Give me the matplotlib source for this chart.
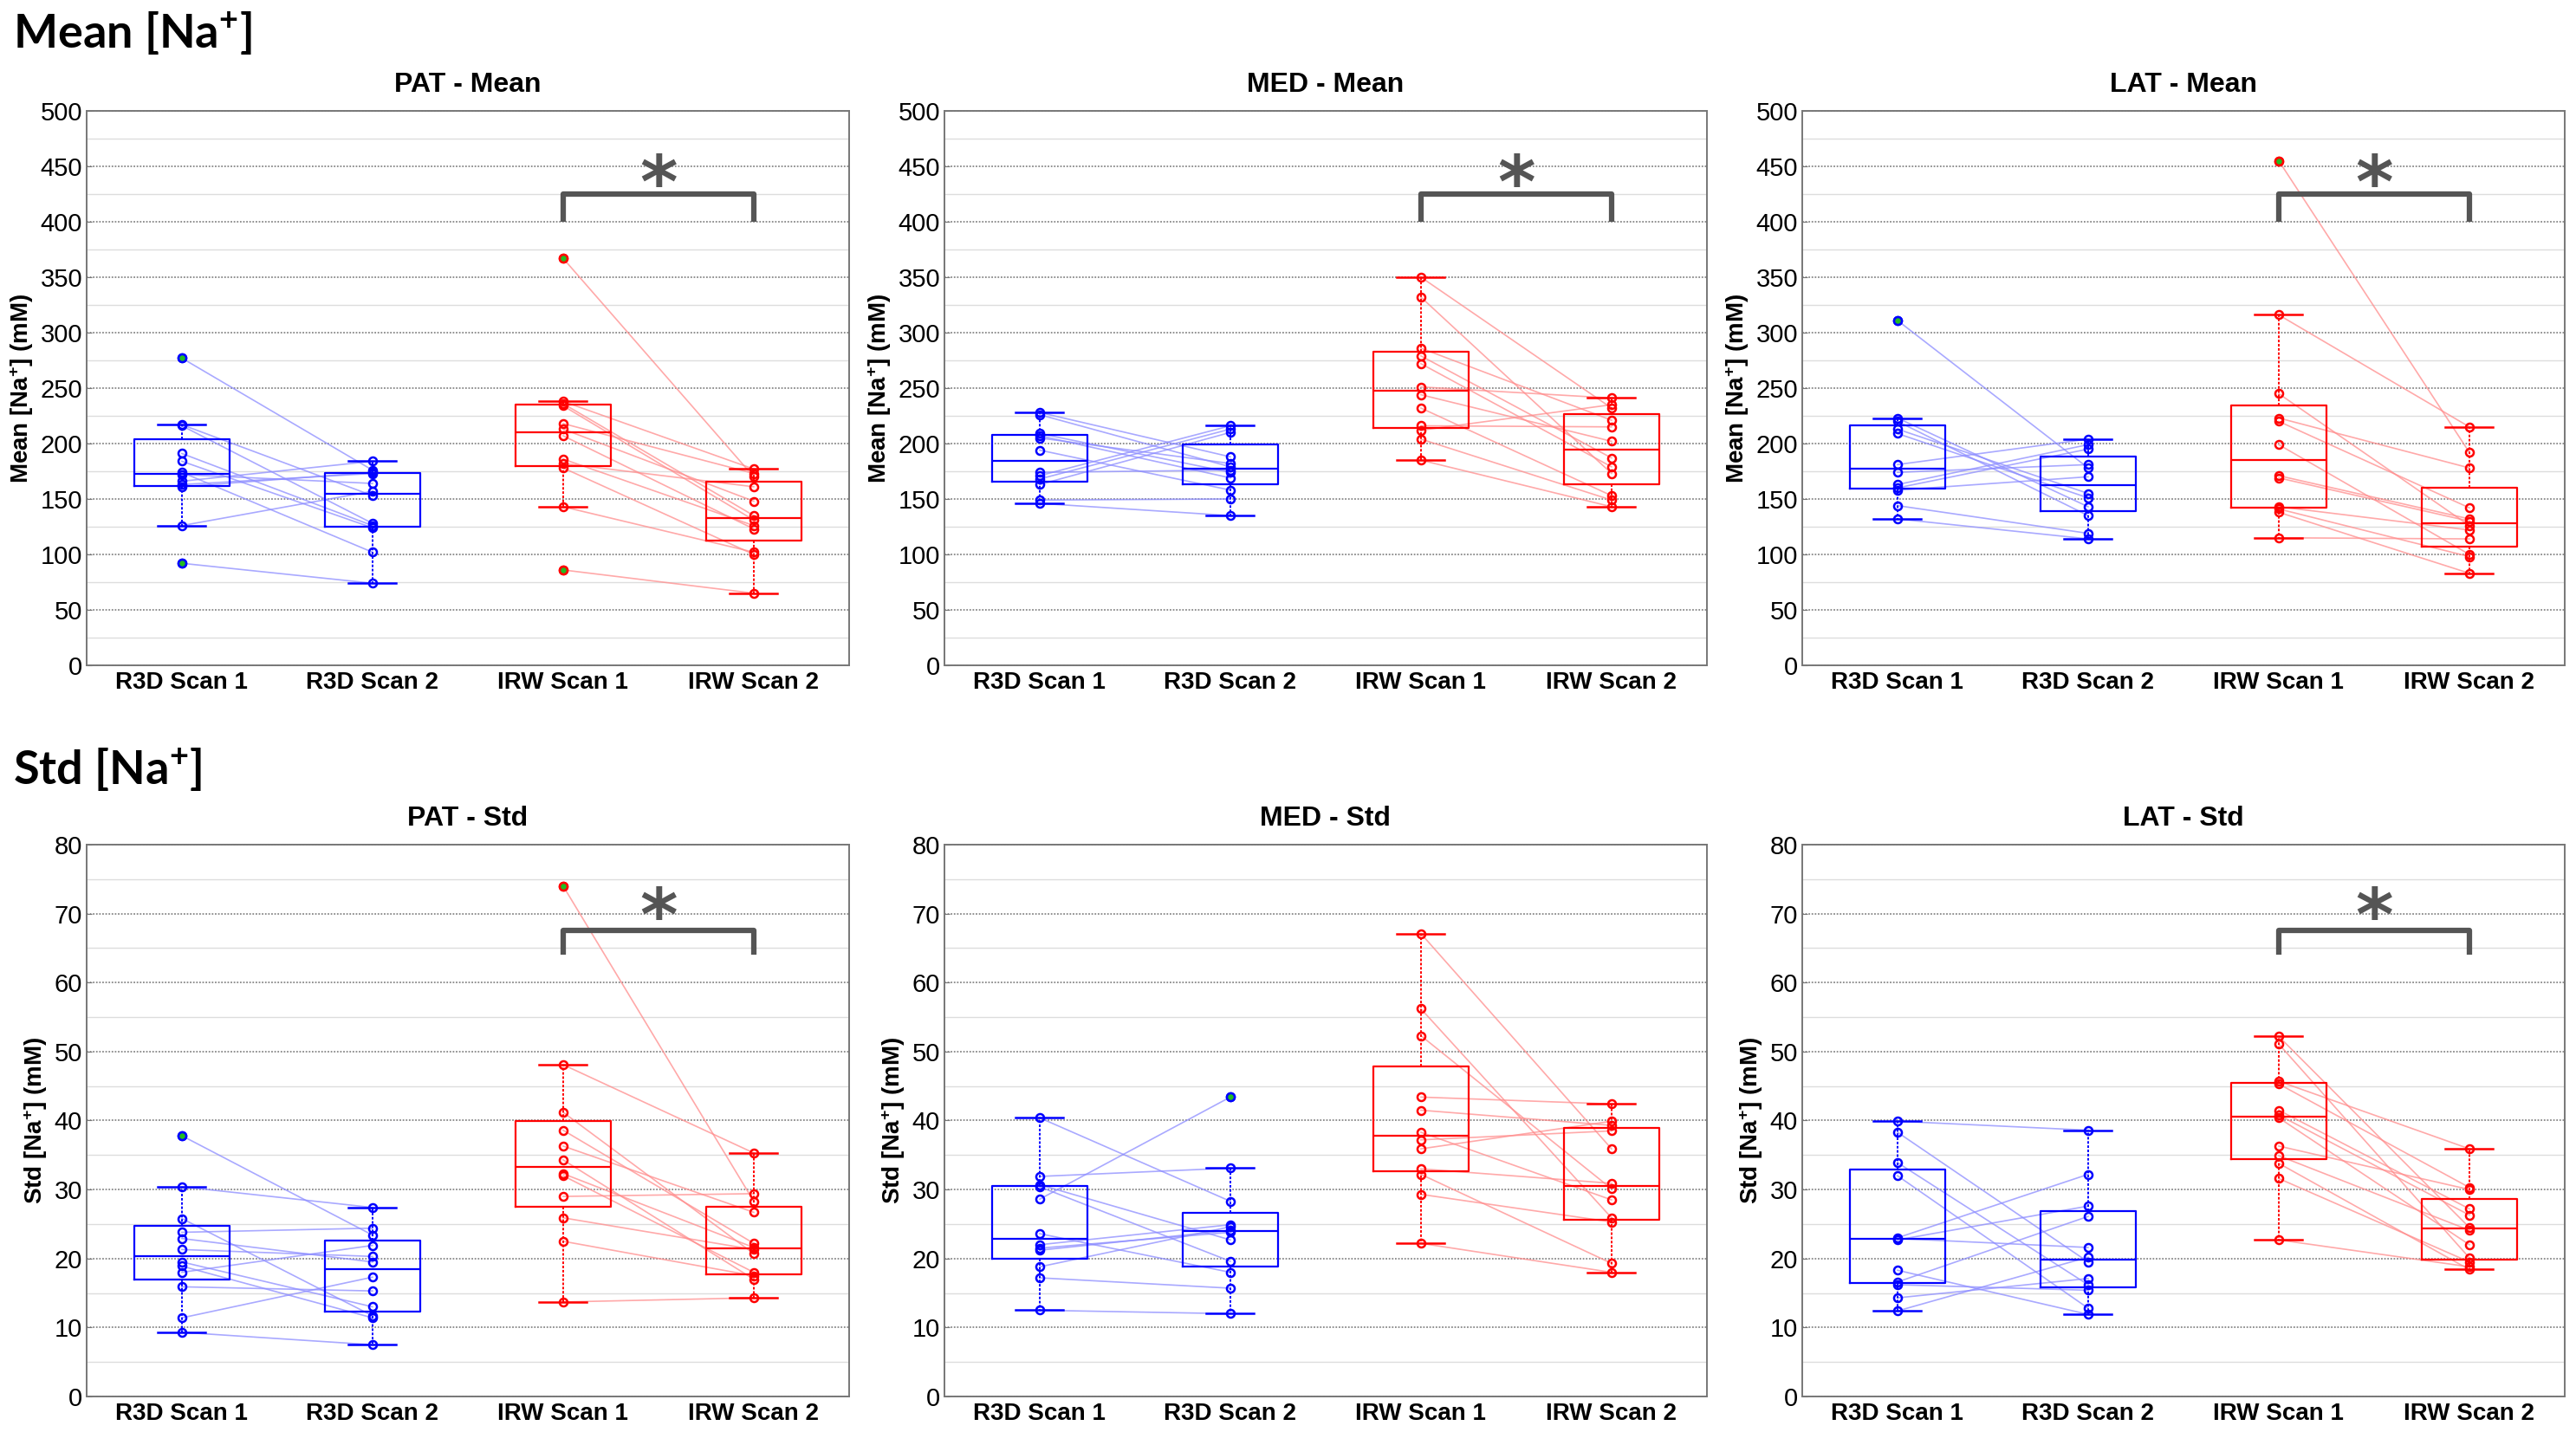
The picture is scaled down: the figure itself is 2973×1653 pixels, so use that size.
import matplotlib
matplotlib.use("Agg")
import matplotlib.pyplot as plt
import numpy as np
from matplotlib import cbook
from matplotlib.ticker import MultipleLocator

plt.rcParams["font.family"] = ["Liberation Sans", "DejaVu Sans"]
plt.rcParams["mathtext.default"] = "regular"

categories = ["R3D Scan 1", "R3D Scan 2", "IRW Scan 1", "IRW Scan 2"]
regions = ["PAT", "MED", "LAT"]

# Mean [Na+] (mM), one entry per subject, same subject order in each list
pat_mean_r3d1 = [277, 217, 216, 191, 184, 174, 172, 166, 163, 161, 126, 92]
pat_mean_r3d2 = [176, 153, 128, 126, 124, 102, 164, 184, 173, 174, 157, 74]
pat_mean_irw1 = [367, 238, 236, 234, 218, 213, 207, 186, 182, 178, 143, 86]
pat_mean_irw2 = [170, 177, 135, 131, 173, 148, 123, 126, 161, 100, 102, 65]

med_mean_r3d1 = [228, 226, 209, 207, 205, 194, 174, 171, 168, 163, 149, 146]
med_mean_r3d2 = [188, 179, 174, 169, 182, 158, 176, 216, 213, 210, 150, 135]
med_mean_irw1 = [350, 332, 286, 279, 272, 251, 244, 232, 216, 212, 204, 185]
med_mean_irw2 = [232, 173, 221, 187, 179, 241, 202, 153, 215, 235, 149, 143]

lat_mean_r3d1 = [311, 223, 220, 213, 209, 181, 174, 163, 160, 158, 144, 132]
lat_mean_r3d2 = [178, 143, 135, 155, 151, 204, 181, 199, 195, 170, 119, 114]
lat_mean_irw1 = [455, 316, 245, 223, 220, 199, 171, 169, 143, 141, 138, 115]
lat_mean_irw2 = [192, 215, 126, 178, 142, 100, 132, 130, 122, 98, 83, 114]

# Std [Na+] (mM)
pat_std_r3d1 = [37.8, 30.4, 25.8, 23.8, 22.9, 21.3, 19.5, 18.9, 18.0, 15.9, 11.4, 9.3]
pat_std_r3d2 = [23.4, 27.4, 11.7, 24.4, 19.5, 20.3, 13.0, 11.4, 21.9, 15.3, 17.3, 7.5]
pat_std_irw1 = [74.0, 48.1, 41.2, 38.6, 36.3, 34.3, 32.3, 32.0, 29.0, 25.9, 22.5, 13.7]
pat_std_irw2 = [28.3, 35.3, 20.7, 22.2, 26.7, 17.0, 21.6, 18.0, 29.4, 21.3, 17.5, 14.3]

med_std_r3d1 = [40.4, 31.9, 30.7, 30.4, 28.6, 23.6, 22.0, 21.2, 18.8, 17.2, 21.5, 12.5]
med_std_r3d2 = [28.3, 33.1, 22.7, 19.6, 43.4, 18.0, 24.9, 24.1, 24.6, 15.7, 23.8, 12.0]
med_std_irw1 = [67.1, 56.2, 52.3, 43.4, 41.5, 38.3, 37.2, 35.9, 33.0, 32.2, 29.3, 22.2]
med_std_irw2 = [35.9, 25.9, 30.1, 42.4, 39.3, 28.5, 38.5, 39.9, 30.9, 19.3, 25.3, 18.0]

lat_std_r3d1 = [39.9, 38.3, 33.9, 32.0, 23.0, 22.7, 18.3, 16.6, 16.2, 14.3, 22.9, 12.4]
lat_std_r3d2 = [38.6, 19.5, 16.2, 12.8, 32.2, 27.6, 11.9, 26.1, 15.4, 17.1, 21.6, 20.2]
lat_std_irw1 = [52.2, 51.1, 45.7, 45.3, 41.5, 40.8, 40.4, 36.3, 34.9, 33.8, 31.6, 22.7]
lat_std_irw2 = [24.5, 20.1, 35.9, 30.3, 27.2, 26.3, 22.0, 30.0, 24.1, 18.4, 19.5, 18.8]

# significant IRW scan1 vs scan2 difference
mean_significant = [True, True, True]
std_significant = [True, False, True]

BLUE = "#0000ff"
RED = "#ff0000"
GREY = "#555555"


def matlab_stats(vals):
    """Box stats with MATLAB-style quartiles (hazen) and 1.5 IQR whiskers."""
    x = np.asarray(vals, dtype=float)
    st = cbook.boxplot_stats(x, whis=1.5)[0]
    q1, med, q3 = np.percentile(x, [25, 50, 75], method="hazen")
    iqr = q3 - q1
    lo_f, hi_f = q1 - 1.5 * iqr, q3 + 1.5 * iqr
    inside = x[(x >= lo_f) & (x <= hi_f)]
    st.update(q1=q1, med=med, q3=q3, iqr=iqr,
              whislo=inside.min(), whishi=inside.max(),
              fliers=x[(x < lo_f) | (x > hi_f)])
    return st


def draw_panel(ax, title, ylabel, groups, ymax, major, minor, sig, bracket_y):
    colors = [BLUE, BLUE, RED, RED]
    pale = ["#8c8cff", "#ff8c8c"]

    # paired lines
    for k, (a, b) in enumerate([(0, 1), (2, 3)]):
        for v1, v2 in zip(groups[a], groups[b]):
            ax.plot([a + 1, b + 1], [v1, v2], color=pale[k], lw=1.2,
                    alpha=0.75, zorder=2)

    for i, vals in enumerate(groups):
        c = colors[i]
        ax.plot([i + 1] * len(vals), vals, "o", mfc="none", mec=c, ms=6.5,
                mew=1.8, zorder=3)
        ax.bxp([matlab_stats(vals)], positions=[i + 1], widths=0.5,
               capwidths=0.25, manage_ticks=False,
               boxprops=dict(color=c, lw=1.6),
               medianprops=dict(color=c, lw=1.6),
               whiskerprops=dict(color=c, lw=1.4, ls=(0, (1.5, 1))),
               capprops=dict(color=c, lw=1.8),
               flierprops=dict(marker="o", mfc="#22bb22", mec=c, ms=6.5,
                               mew=1.8, zorder=4))

    if sig:
        lo, hi = bracket_y
        ax.plot([3, 3, 4, 4], [lo, hi, hi, lo], color=GREY, lw=4.5,
                solid_joinstyle="round", solid_capstyle="butt", zorder=5)
        ax.text(3.5, lo, "*", ha="center", va="bottom",
                fontsize=60, fontweight="bold", color=GREY,
                family="DejaVu Sans")

    ax.set_xlim(0.5, 4.5)
    ax.set_ylim(0, ymax)
    ax.yaxis.set_major_locator(MultipleLocator(major))
    ax.yaxis.set_minor_locator(MultipleLocator(minor))
    ax.set_xticks(range(1, 5))
    ax.set_xticklabels(categories, fontweight="bold", fontsize=20)
    ax.tick_params(axis="y", labelsize=21, direction="in", length=4,
                   color="#777777")
    ax.tick_params(axis="y", which="minor", length=0)
    ax.tick_params(axis="x", direction="in", length=0, pad=5)
    ax.yaxis.grid(True, which="major", color="#888888", ls=(0, (1, 1)), lw=1.3)
    ax.yaxis.grid(True, which="minor", color="#dddddd", ls="-", lw=1.0)
    ax.set_axisbelow(True)
    for s in ax.spines.values():
        s.set_color("#777777")
        s.set_linewidth(1.4)
    ax.set_title(title, fontsize=23, fontweight="bold", pad=16)
    ax.set_ylabel(ylabel, fontsize=20, fontweight="bold", labelpad=4)


fig = plt.figure(figsize=(29.73, 16.53), dpi=100)

mean_groups = [
    [pat_mean_r3d1, pat_mean_r3d2, pat_mean_irw1, pat_mean_irw2],
    [med_mean_r3d1, med_mean_r3d2, med_mean_irw1, med_mean_irw2],
    [lat_mean_r3d1, lat_mean_r3d2, lat_mean_irw1, lat_mean_irw2],
]
std_groups = [
    [pat_std_r3d1, pat_std_r3d2, pat_std_irw1, pat_std_irw2],
    [med_std_r3d1, med_std_r3d2, med_std_irw1, med_std_irw2],
    [lat_std_r3d1, lat_std_r3d2, lat_std_irw1, lat_std_irw2],
]

lefts = [0.0336, 0.3666, 0.6996]
width = 0.296
for j, region in enumerate(regions):
    ax = fig.add_axes([lefts[j], 0.5354, width, 0.3872])
    draw_panel(ax, f"{region} - Mean", "Mean [Na$^{+}$] (mM)", mean_groups[j],
               500, 50, 25, mean_significant[j], (400, 425))
    ax = fig.add_axes([lefts[j], 0.0248, width, 0.3854])
    draw_panel(ax, f"{region} - Std", "Std [Na$^{+}$] (mM)", std_groups[j],
               80, 10, 5, std_significant[j], (64, 67.5))

fig.text(0.005, 0.977, "Mean [Na$^{+}$]", fontsize=39, fontweight="bold",
         family="Lato", va="center", ha="left")
fig.text(0.005, 0.463, "Std [Na$^{+}$]", fontsize=39, fontweight="bold",
         family="Lato", va="center", ha="left")

fig.savefig("out.png", dpi=100)
